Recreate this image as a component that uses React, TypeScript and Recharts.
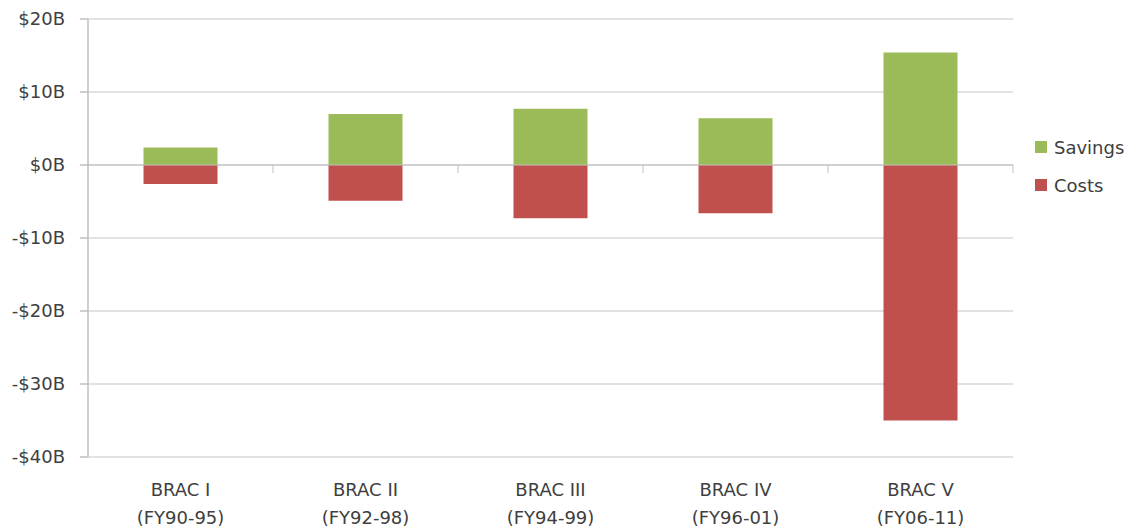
import React from "react";
import { BarChart, Bar, XAxis, YAxis, CartesianGrid, Legend, ReferenceLine } from "recharts";

const programs = ["BRAC I", "BRAC II", "BRAC III", "BRAC IV", "BRAC V"];
const periods = ["(FY90-95)", "(FY92-98)", "(FY94-99)", "(FY96-01)", "(FY06-11)"];
const savings = [2.4, 7.0, 7.7, 6.4, 15.4];
const costs = [-2.6, -4.9, -7.3, -6.6, -35.0];
const yTicks = [-40, -30, -20, -10, 0, 10, 20];
const seriesOrder = ["Savings", "Costs"];

const data = programs.map((p, i) => ({
  name: p,
  period: periods[i],
  Savings: savings[i],
  Costs: costs[i],
}));

const FONT = "'DejaVu Sans', sans-serif";
const TEXT = "#404040";
const GRID = "#D9D9D9";
const AXIS = "#BFBFBF";

const fmt = (v: number) => (v < 0 ? `-$${-v}B` : `$${v}B`);

const XTick = (props: any) => {
  const { x, y, payload, index } = props;
  const d = data[index] || data.find((r) => r.name === payload.value);
  return (
    <text x={x} y={y} textAnchor="middle" fill={TEXT} fontFamily={FONT} fontSize={18}>
      <tspan x={x} dy={39}>{payload.value}</tspan>
      <tspan x={x} dy={28}>{d ? d.period : ""}</tspan>
    </text>
  );
};

const ZeroLine = (props: any) => {
  const { x1, y1, x2, y2 } = props;
  const n = data.length;
  const step = (x2 - x1) / n;
  const ticks = [];
  for (let i = 1; i <= n; i++) {
    const tx = x1 + i * step;
    ticks.push(<line key={i} x1={tx} y1={y1} x2={tx} y2={y1 + 8} stroke={AXIS} strokeWidth={1} />);
  }
  return (
    <g>
      <line x1={x1} y1={y1} x2={x2} y2={y2} stroke={AXIS} strokeWidth={1} />
      {ticks}
    </g>
  );
};

const LegendContent = (props: any) => {
  const items = [...(props.payload || [])].sort(
    (a: any, b: any) => seriesOrder.indexOf(a.value) - seriesOrder.indexOf(b.value)
  );
  return (
    <div style={{ fontFamily: FONT, fontSize: 18, color: TEXT }}>
      {items.map((item: any) => (
        <div key={item.value} style={{ display: "flex", alignItems: "center", height: 38 }}>
          <span style={{ display: "inline-block", width: 12, height: 12, background: item.color, marginRight: 7 }} />
          <span>{item.value}</span>
        </div>
      ))}
    </div>
  );
};

export default function App() {
  return (
    <div style={{ position: "absolute", left: 0, top: 0, width: 1130, height: 531, background: "#fff" }}>
      <BarChart
        width={1130}
        height={531}
        data={data}
        stackOffset="sign"
        margin={{ top: 19, right: 117, bottom: 0, left: 0 }}
        barCategoryGap="30%"
      >
        <CartesianGrid vertical={false} stroke={GRID} strokeWidth={1.5} />
        <YAxis
          width={88}
          domain={[-40, 20]}
          ticks={yTicks}
          interval={0}
          tickFormatter={fmt}
          axisLine={{ stroke: AXIS, strokeWidth: 1.5 }}
          tickLine={{ stroke: AXIS, strokeWidth: 1.5 }}
          tickSize={8}
          tickMargin={15}
          tick={{ fill: TEXT, fontFamily: FONT, fontSize: 18 }}
        />
        <XAxis
          dataKey="name"
          height={74}
          axisLine={false}
          tickLine={false}
          tickSize={0}
          tickMargin={0}
          interval={0}
          tick={<XTick />}
        />
        <Bar dataKey="Savings" stackId="a" fill="#9BBB59" isAnimationActive={false} />
        <Bar dataKey="Costs" stackId="a" fill="#C0504D" isAnimationActive={false} />
        <ReferenceLine y={0} shape={<ZeroLine />} />
        <Legend
          layout="horizontal"
          verticalAlign="middle"
          align="center"
          content={<LegendContent />}
          wrapperStyle={{ left: 1035, top: 128, width: 95 }}
        />
      </BarChart>
    </div>
  );
}
